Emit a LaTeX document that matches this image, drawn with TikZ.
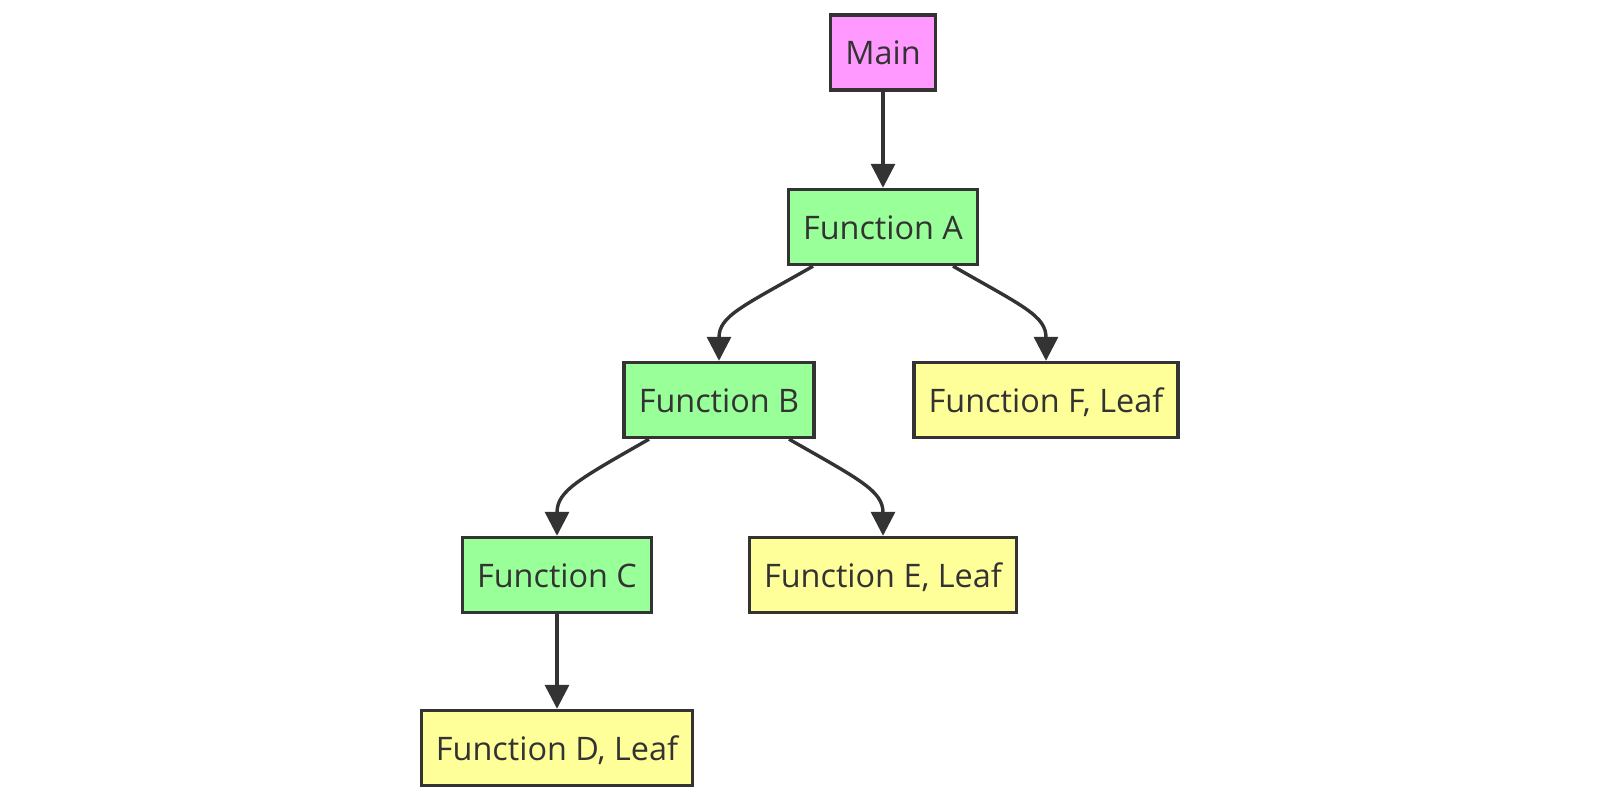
\documentclass[tikz,border=0pt]{standalone}
\usepackage{fontspec}
\setmainfont{Open Sans}
\usetikzlibrary{arrows.meta}
\definecolor{ink}{HTML}{333333}
\definecolor{pinkfill}{HTML}{FF99FF}
\definecolor{greenfill}{HTML}{99FF99}
\definecolor{yellowfill}{HTML}{FFFF99}
\tikzset{
  box/.style={draw=ink, line width=1.7pt, text=ink, font=\fontsize{16.2}{19}\selectfont,
    minimum height=37.5pt, inner xsep=7.3pt, inner ysep=0pt, text height=12.2pt, text depth=0pt},
  mainbox/.style={box, fill=pinkfill},
  fnbox/.style={box, fill=greenfill},
  leafbox/.style={box, fill=yellowfill},
  conn/.style={draw=ink, line width=1.7pt, -{Triangle[length=12pt,width=12pt]}},
}
\begin{document}
\begin{tikzpicture}[x=0.5pt,y=0.5pt]
\useasboundingbox (0,0) rectangle (1600,802);
\node[mainbox] (M) at (883,749.5) {Main};
\node[fnbox] (A) at (883,575) {Function A};
\node[fnbox] (B) at (719,402) {Function B};
\node[leafbox] (F) at (1046,402) {Function F, Leaf};
\node[fnbox] (C) at (557,227) {Function C};
\node[leafbox] (E) at (883,227) {Function E, Leaf};
\node[leafbox] (D) at (557,54) {Function D, Leaf};
\draw[conn] (M) -- (A);
\draw[conn] ([xshift=-35pt]A.south) .. controls +(-70,-40) and +(0,45) .. (B.north);
\draw[conn] ([xshift=35pt]A.south) .. controls +(70,-40) and +(0,45) .. (F.north);
\draw[conn] ([xshift=-35pt]B.south) .. controls +(-70,-40) and +(0,45) .. (C.north);
\draw[conn] ([xshift=35pt]B.south) .. controls +(70,-40) and +(0,45) .. (E.north);
\draw[conn] (C) -- (D);
\end{tikzpicture}
\end{document}
